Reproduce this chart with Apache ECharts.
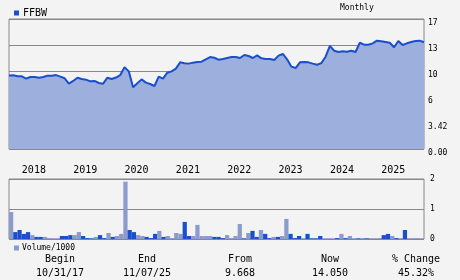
<!DOCTYPE html>
<html><head><meta charset="utf-8">
<script src="https://cdn.jsdelivr.net/npm/echarts@6/dist/echarts.min.js"></script>
<style>html,body{margin:0;padding:0;background:#f3f3f3}#c{width:460px;height:280px}</style>
</head><body><div id="c"></div>
<script>
// ---- data ----
const startYear = 2017, startMonth = 10; // first monthly point: Oct 2017
const price = [9.67,9.70,9.56,9.56,9.25,9.47,9.47,9.38,9.47,9.65,9.65,9.72,9.52,9.30,8.59,8.95,9.38,9.21,9.12,8.90,
  8.95,8.68,8.59,9.38,9.20,9.40,9.72,10.74,10.21,8.11,8.64,9.16,8.73,8.55,8.29,9.52,9.25,10.04,10.21,10.57,
  11.40,11.27,11.23,11.36,11.44,11.49,11.80,12.10,12.00,11.75,11.84,11.97,12.10,12.10,11.97,12.36,12.23,11.97,12.32,11.93,
  11.84,11.84,11.71,12.28,12.50,11.80,10.83,10.65,11.40,11.44,11.40,11.23,11.09,11.30,12.14,13.55,12.93,12.76,12.85,12.80,
  12.93,12.76,13.98,13.72,13.72,13.90,14.25,14.16,14.07,13.98,13.38,14.21,13.68,13.90,14.07,14.21,14.25,14.05];
const volume = [0.90,0.23,0.30,0.17,0.23,0.13,0.07,0.07,0.07,0.03,0.02,0.02,0.10,0.10,0.13,0.13,0.23,0.10,0.03,0.02,
  0.07,0.13,0.03,0.20,0.07,0.10,0.17,1.91,0.30,0.23,0.13,0.10,0.07,0.03,0.17,0.27,0.07,0.10,0.03,0.20,
  0.17,0.57,0.10,0.10,0.47,0.10,0.10,0.10,0.07,0.07,0.03,0.13,0.03,0.10,0.50,0.02,0.20,0.27,0.07,0.30,
  0.17,0.03,0.07,0.07,0.10,0.67,0.17,0.03,0.10,0.02,0.17,0.02,0.02,0.10,0.02,0.02,0.02,0.03,0.17,0.03,
  0.10,0.02,0.02,0.03,0.02,0.02,0.02,0.03,0.13,0.17,0.10,0.03,0.02,0.30,0.02,0.03,0.03,0.02];
const volDark = [0,1,1,1,1,0,1,1,0,0,0,0,1,1,1,0,0,1,1,1,
  0,1,1,0,1,0,0,0,1,1,0,0,1,1,1,0,1,0,0,0,
  0,1,1,0,0,0,0,0,1,1,1,0,0,0,0,1,0,1,1,0,
  1,1,0,1,0,0,1,1,1,0,1,1,1,1,0,0,0,1,0,1,
  0,0,1,0,1,0,0,0,1,1,0,1,0,1,0,0,0,0];
const priceTicks = ['0.00','3.42','6','10','13','17'];
const volTicks = ['0','1','2'];
const footHeads = ['Begin','End','From','Now','% Change'];
const footVals = ['10/31/17','11/07/25','9.668','14.050','45.32%'];

const months = [];
for (let i = 0; i < price.length; i++) {
  const m = startMonth - 1 + i;
  const y = startYear + Math.floor(m / 12);
  const mm = (m % 12) + 1;
  months.push(y + '-' + (mm < 10 ? '0' : '') + mm);
}

const FONT = 'DejaVu Sans Mono';
const DARK = '#1a4fcc', LIGHT = '#8a9bcc', AREA = '#9dafdc', GRID = '#888888';

const footX = [60, 147, 240, 330, 416];
const graphics = [
  {type:'text', left:340, top:4, style:{text:'Monthly', font:'8px "'+FONT+'"', fill:'#000'}}
];
footHeads.forEach((t,i)=>{
  graphics.push({type:'text', x:footX[i], y:259, style:{text:t, font:'10px "'+FONT+'"', fill:'#000', textAlign:'center', textVerticalAlign:'middle'}});
  graphics.push({type:'text', x:footX[i], y:273, style:{text:footVals[i], font:'10px "'+FONT+'"', fill:'#000', textAlign:'center', textVerticalAlign:'middle'}});
});

const chart = echarts.init(document.getElementById('c'), null, {renderer:'canvas'});
chart.setOption({
  backgroundColor:'#f3f3f3',
  animation:false,
  textStyle:{fontFamily:FONT},
  legend:[
    {data:['FFBW'], left:9, top:3, icon:'rect', itemWidth:5, itemHeight:5, itemGap:4,
     textStyle:{fontFamily:FONT, fontSize:10, color:'#000', padding:[0,0,0,-1]}},
    {data:['Volume/1000'], left:9, top:239, icon:'rect', itemWidth:5, itemHeight:5,
     textStyle:{fontFamily:FONT, fontSize:8, color:'#000', padding:[0,0,0,-2]}}
  ],
  grid:[
    {left:9, top:19, width:415, height:130, show:true, borderColor:GRID, borderWidth:1, backgroundColor:'transparent'},
    {left:9, top:179, width:415, height:60, show:true, borderColor:GRID, borderWidth:1, backgroundColor:'transparent'}
  ],
  xAxis:[
    {type:'category', gridIndex:0, data:months, boundaryGap:false,
     axisLine:{show:false}, axisTick:{show:false},
     axisLabel:{interval:(i,v)=>v.endsWith('-01'), formatter:v=>v.slice(0,4), align:'left',
       fontFamily:FONT, fontSize:10, color:'#000', margin:16}},
    {type:'category', gridIndex:1, data:months, boundaryGap:true,
     axisLine:{show:false}, axisTick:{show:false}, axisLabel:{show:false}}
  ],
  yAxis:[
    {type:'value', gridIndex:0, position:'right', min:0, max:17.1, interval:3.42,
     axisLine:{show:false}, axisTick:{show:false},
     splitLine:{show:true, lineStyle:{color:GRID, width:1}},
     axisLabel:{formatter:v=>priceTicks[Math.round(v/3.42)], fontFamily:FONT, fontSize:8, color:'#000', margin:4, verticalAlign:'top'}},
    {type:'value', gridIndex:1, position:'right', min:0, max:2, interval:1,
     axisLine:{show:false}, axisTick:{show:false},
     splitLine:{show:true, lineStyle:{color:GRID, width:1}},
     axisLabel:{formatter:v=>volTicks[Math.round(v)], fontFamily:FONT, fontSize:8, color:'#000', margin:6, padding:[3,0,0,0]}}
  ],
  series:[
    {name:'FFBW', type:'line', xAxisIndex:0, yAxisIndex:0, data:price, symbol:'none',
     itemStyle:{color:DARK}, lineStyle:{color:DARK, width:2}, areaStyle:{color:AREA, opacity:1}},
    {name:'Volume/1000', type:'bar', xAxisIndex:1, yAxisIndex:1, barCategoryGap:'0%',
     itemStyle:{color:LIGHT},
     data:volume.map((v,i)=>({value:v, itemStyle:{color: volDark[i] ? DARK : LIGHT}}))}
  ],
  graphic:graphics
});
</script></body></html>
